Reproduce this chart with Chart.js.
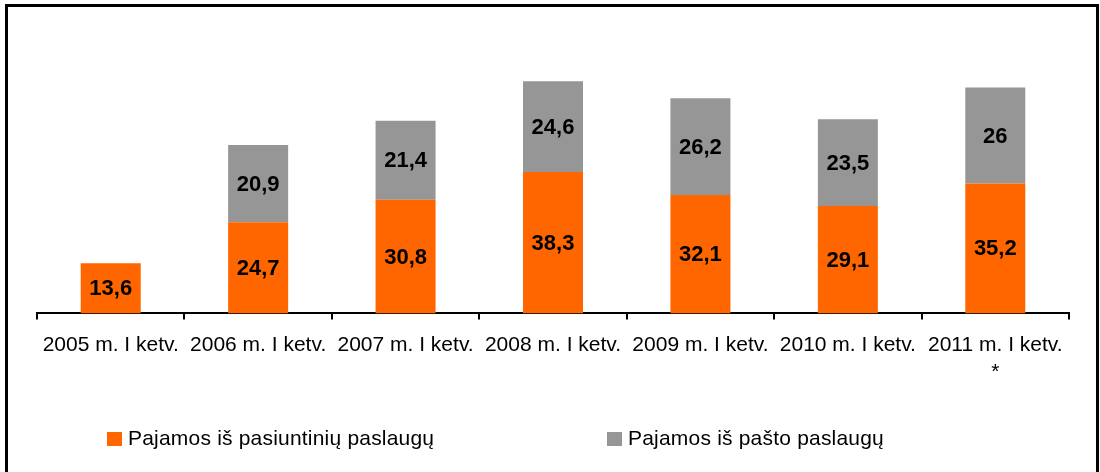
<!DOCTYPE html>
<html>
<head>
<meta charset="utf-8">
<script src="https://cdn.jsdelivr.net/npm/chart.js@4.4.0/dist/chart.umd.min.js"></script>
<style>
  html, body { margin: 0; padding: 0; background: #fff; overflow: hidden; }
  #wrap { position: relative; width: 1100px; height: 472px; }
  #frame {
    position: absolute; left: 5px; top: 4px; width: 1094px; height: 520px;
    border: 3px solid #000; box-sizing: border-box;
  }
  #chart { position: absolute; left: 0; top: 0; }
  .leg { position: absolute; top: 426px; font: 21px 'Liberation Sans', Arial, sans-serif; letter-spacing: 0.2px; color: #000; white-space: nowrap; }
  .leg i { display: inline-block; width: 15px; height: 14px; margin-right: 6px; vertical-align: -1px; }
</style>
</head>
<body>
<div id="wrap">
  <div id="frame"></div>
  <canvas id="chart" width="1100" height="472"></canvas>
  <div id="legend"></div>
</div>
<script>
// ── DATA ──
const categories = [
  '2005 m. I ketv.', '2006 m. I ketv.', '2007 m. I ketv.', '2008 m. I ketv.',
  '2009 m. I ketv.', '2010 m. I ketv.', ['2011 m. I ketv.', '*']
];
const courierRevenue = [13.6, 24.7, 30.8, 38.3, 32.1, 29.1, 35.2];
const postRevenue = [null, 20.9, 21.4, 24.6, 26.2, 23.5, 26];
const seriesNames = ['Pajamos iš pasiuntinių paslaugų', 'Pajamos iš pašto paslaugų'];
const seriesColors = ['#FF6600', '#969696'];

const FONT = "'Liberation Sans', Arial, sans-serif";

// ── VALUE LABELS INSIDE BARS ──
const barLabels = {
  id: 'barLabels',
  afterDatasetsDraw(chart) {
    const ctx = chart.ctx;
    ctx.save();
    ctx.font = 'bold 22px ' + FONT;
    ctx.fillStyle = '#000';
    ctx.textAlign = 'center';
    ctx.textBaseline = 'middle';
    chart.data.datasets.forEach((ds, i) => {
      chart.getDatasetMeta(i).data.forEach((bar, j) => {
        const v = ds.data[j];
        if (v == null) return;
        const p = bar.getCenterPoint();
        ctx.fillText(String(v).replace('.', ','), p.x, p.y + 1);
      });
    });
    ctx.restore();
  }
};

const chart = new Chart(document.getElementById('chart'), {
  type: 'bar',
  data: {
    labels: categories,
    datasets: [
      { label: seriesNames[0], data: courierRevenue, backgroundColor: seriesColors[0] },
      { label: seriesNames[1], data: postRevenue, backgroundColor: seriesColors[1] }
    ]
  },
  options: {
    responsive: false,
    animation: false,
    datasets: { bar: { categoryPercentage: 1, barPercentage: 0.407 } },
    layout: { padding: { left: 37, right: 31, top: 55, bottom: 74 } },
    scales: {
      x: {
        stacked: true,
        border: { display: true, color: '#000', width: 2 },
        grid: { drawOnChartArea: false, drawTicks: true, tickLength: 6, color: '#000', lineWidth: 2 },
        ticks: { color: '#000', font: { family: FONT, size: 21, lineHeight: 1.3 }, padding: 12, maxRotation: 0, autoSkip: false }
      },
      y: { stacked: true, display: false, min: 0, max: 70 }
    },
    plugins: { legend: { display: false }, tooltip: { enabled: false } }
  },
  plugins: [barLabels]
});

// ── HTML LEGEND ──
const legendLeft = [107, 607];
const legend = document.getElementById('legend');
chart.data.datasets.forEach((ds, i) => {
  const el = document.createElement('div');
  el.className = 'leg';
  el.style.left = legendLeft[i] + 'px';
  el.innerHTML = '<i style="background:' + ds.backgroundColor + '"></i>' + ds.label;
  legend.appendChild(el);
});
</script>
</body>
</html>
